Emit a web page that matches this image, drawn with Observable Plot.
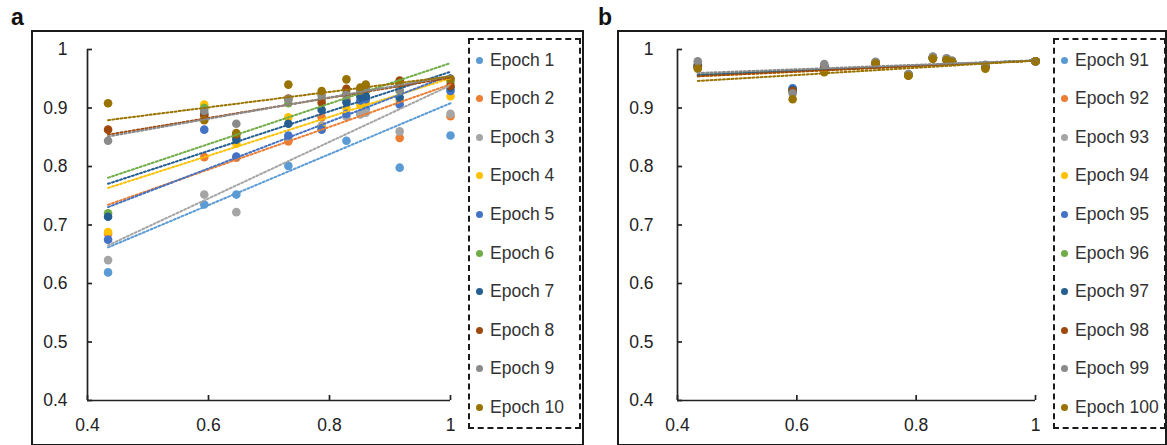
<!DOCTYPE html>
<html><head><meta charset="utf-8">
<script src="https://cdn.jsdelivr.net/npm/d3@7"></script>
<script src="https://cdn.jsdelivr.net/npm/@observablehq/plot@0.6"></script>
<style>
html,body{margin:0;padding:0;background:#fff;}
#root{position:relative;width:1167px;height:445px;overflow:hidden;font-family:"Liberation Sans",Arial,sans-serif;}
.frame{position:absolute;border:2px solid #1a1a1a;box-sizing:border-box;}
.panel-label{position:absolute;font-weight:bold;font-size:23px;line-height:1;color:#111;}
.legend{position:absolute;border:2px dashed #1a1a1a;box-sizing:border-box;}
.item{position:absolute;left:6px;height:20px;display:flex;align-items:center;font-size:17.5px;color:#333;white-space:nowrap;}
.dot{width:7px;height:7px;border-radius:50%;margin-right:7px;flex:none;}
.plot{position:absolute;top:0;}
</style></head><body><div id="root"></div>
<script>
// ---- data ----
const xValues = [0.434, 0.593, 0.646, 0.732, 0.787, 0.828, 0.851, 0.860, 0.916, 1.0];
const xTicks = [0.4, 0.6, 0.8, 1];
const yTicks = [0.4, 0.5, 0.6, 0.7, 0.8, 0.9, 1];

const namesA = ["Epoch 1","Epoch 2","Epoch 3","Epoch 4","Epoch 5","Epoch 6","Epoch 7","Epoch 8","Epoch 9","Epoch 10"];
const epoch1  = [0.619, 0.735, 0.752, 0.801, 0.866, 0.844, 0.890, 0.899, 0.798, 0.853];
const epoch2  = [0.685, 0.816, 0.815, 0.843, 0.884, 0.915, 0.925, 0.930, 0.849, 0.886];
const epoch3  = [0.640, 0.752, 0.722, 0.850, 0.870, 0.885, 0.889, 0.892, 0.860, 0.890];
const epoch4  = [0.688, 0.906, 0.839, 0.884, 0.866, 0.900, 0.905, 0.910, 0.912, 0.920];
const epoch5  = [0.675, 0.863, 0.817, 0.853, 0.863, 0.890, 0.913, 0.915, 0.906, 0.929];
const epoch6  = [0.720, 0.900, 0.850, 0.908, 0.915, 0.925, 0.930, 0.930, 0.930, 0.945];
const epoch7  = [0.714, 0.890, 0.846, 0.873, 0.897, 0.910, 0.920, 0.920, 0.918, 0.935];
const epoch8  = [0.863, 0.887, 0.855, 0.916, 0.909, 0.933, 0.930, 0.935, 0.947, 0.938];
const epoch9  = [0.844, 0.895, 0.873, 0.915, 0.922, 0.922, 0.930, 0.935, 0.930, 0.950];
const epoch10 = [0.908, 0.879, 0.857, 0.940, 0.929, 0.949, 0.935, 0.940, 0.942, 0.950];

const namesB = ["Epoch 91","Epoch 92","Epoch 93","Epoch 94","Epoch 95","Epoch 96","Epoch 97","Epoch 98","Epoch 99","Epoch 100"];
const epoch91  = [0.972, 0.934, 0.970, 0.977, 0.957, 0.986, 0.983, 0.980, 0.972, 0.980];
const epoch92  = [0.970, 0.932, 0.969, 0.977, 0.956, 0.986, 0.983, 0.979, 0.971, 0.980];
const epoch93  = [0.975, 0.930, 0.972, 0.978, 0.957, 0.987, 0.984, 0.980, 0.972, 0.980];
const epoch94  = [0.969, 0.931, 0.968, 0.977, 0.956, 0.985, 0.983, 0.979, 0.970, 0.980];
const epoch95  = [0.971, 0.933, 0.970, 0.977, 0.957, 0.986, 0.983, 0.980, 0.971, 0.980];
const epoch96  = [0.973, 0.930, 0.971, 0.978, 0.956, 0.986, 0.983, 0.979, 0.972, 0.980];
const epoch97  = [0.972, 0.931, 0.970, 0.977, 0.957, 0.986, 0.984, 0.980, 0.971, 0.980];
const epoch98  = [0.970, 0.929, 0.969, 0.977, 0.956, 0.986, 0.983, 0.979, 0.970, 0.980];
const epoch99  = [0.980, 0.925, 0.975, 0.979, 0.958, 0.988, 0.985, 0.981, 0.974, 0.980];
const epoch100 = [0.967, 0.915, 0.961, 0.976, 0.955, 0.984, 0.982, 0.979, 0.967, 0.980];

const colors = ["#5B9BD5","#ED7D31","#A5A5A5","#FFC000","#4472C4","#70AD47","#255E91","#9E480E","#8A8A8A","#997300"];

// ---- build ----
const root = document.getElementById("root");
function el(cls, css, html) {
  const d = document.createElement("div");
  d.className = cls; Object.assign(d.style, css);
  if (html != null) d.textContent = html;
  root.appendChild(d); return d;
}

function makePanel(names, series, opts) {
  const data = [];
  series.forEach((arr, i) => arr.forEach((v, j) => data.push({series: names[i], x: xValues[j], y: v})));
  const svg = Plot.plot({
    width: opts.width, height: 445,
    marginLeft: opts.marginLeft, marginRight: opts.marginRight, marginTop: 49, marginBottom: 45,
    style: {background: "transparent", fontFamily: "'Liberation Sans', Arial, sans-serif", fontSize: "17.5px", color: "#222", overflow: "visible"},
    x: {domain: [0.4, 1], label: null},
    y: {domain: [0.4, 1], label: null},
    color: {domain: names, range: colors},
    marks: [
      Plot.ruleY([0.4], {stroke: "#222", strokeWidth: 1.7}),
      Plot.ruleX([0.4], {stroke: "#222", strokeWidth: 1.7}),
      Plot.axisX(xTicks, {tickSize: 5, dy: -5, tickPadding: 18, strokeWidth: 1.7, tickFormat: d => String(d), fill: "#222", label: null}),
      Plot.axisY(yTicks, {tickSize: 5, dx: 5, tickPadding: opts.yPad, strokeWidth: 1.7, tickFormat: d => String(d), fill: "#222", label: null}),
      Plot.dot(data, {x: "x", y: "y", fill: "series", r: 4.3}),
      Plot.linearRegressionY(data, {x: "x", y: "y", stroke: "series", ci: 0, strokeWidth: 2, strokeDasharray: "2,2.2"})
    ]
  });
  d3.select(svg).selectAll('g[aria-label="linear-regression"] path').attr("stroke-dasharray", "2,2.2");
  return svg;
}

function legend(names, left) {
  const box = el("legend", {left: left + "px", top: "38px", width: "113px", height: "391px"});
  names.forEach((n, i) => {
    const it = document.createElement("div");
    it.className = "item";
    it.style.top = (22 + i * 38.6 - 10 - 2) + "px";
    const dot = document.createElement("div");
    dot.className = "dot"; dot.style.background = colors[i];
    const t = document.createElement("span"); t.textContent = n;
    it.appendChild(dot); it.appendChild(t); box.appendChild(it);
  });
}

el("frame", {left: "31px", top: "30px", width: "553px", height: "416px"});
el("frame", {left: "617px", top: "30px", width: "550px", height: "416px"});
el("panel-label", {left: "11px", top: "6px"}, "a");
el("panel-label", {left: "598px", top: "6px"}, "b");

const pa = makePanel(namesA, [epoch1,epoch2,epoch3,epoch4,epoch5,epoch6,epoch7,epoch8,epoch9,epoch10],
  {width: 470, marginLeft: 87, marginRight: 20, yPad: 20});
pa.classList.add("plot"); pa.style.left = "0px"; root.appendChild(pa);

const pb = makePanel(namesB, [epoch91,epoch92,epoch93,epoch94,epoch95,epoch96,epoch97,epoch98,epoch99,epoch100],
  {width: 465, marginLeft: 87, marginRight: 20, yPad: 24});
pb.classList.add("plot"); pb.style.left = "590px"; root.appendChild(pb);

legend(namesA, 468);
legend(namesB, 1053);
</script></body></html>
